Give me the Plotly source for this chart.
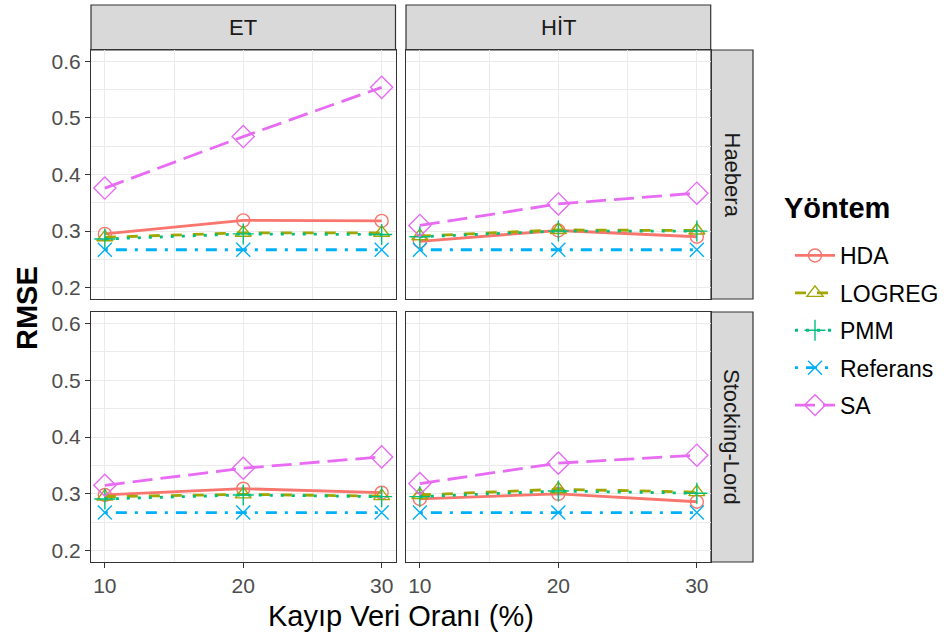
import plotly.graph_objects as go

# Missing-data rate (%) on the x axis
rates = [10, 20, 30]
methods = ["HDA", "LOGREG", "PMM", "Referans", "SA"]
cols = ["ET", "HİT"]
rows = ["Haebera", "Stocking-Lord"]

# RMSE by (column facet, row facet) -> method
et_haebera = {
    "HDA": [0.295, 0.319, 0.318],
    "LOGREG": [0.289, 0.297, 0.297],
    "PMM": [0.286, 0.295, 0.294],
    "Referans": [0.267, 0.267, 0.267],
    "SA": [0.376, 0.467, 0.554],
}
hit_haebera = {
    "HDA": [0.282, 0.301, 0.290],
    "LOGREG": [0.291, 0.302, 0.301],
    "PMM": [0.290, 0.300, 0.300],
    "Referans": [0.267, 0.267, 0.267],
    "SA": [0.310, 0.348, 0.367],
}
et_stocking = {
    "HDA": [0.298, 0.309, 0.302],
    "LOGREG": [0.295, 0.299, 0.296],
    "PMM": [0.291, 0.298, 0.295],
    "Referans": [0.267, 0.267, 0.267],
    "SA": [0.315, 0.345, 0.365],
}
hit_stocking = {
    "HDA": [0.291, 0.300, 0.286],
    "LOGREG": [0.298, 0.308, 0.303],
    "PMM": [0.295, 0.305, 0.301],
    "Referans": [0.267, 0.267, 0.267],
    "SA": [0.318, 0.354, 0.368],
}
panels = [
    (0, 0, et_haebera),
    (0, 1, hit_haebera),
    (1, 0, et_stocking),
    (1, 1, hit_stocking),
]

y_ticks = [0.2, 0.3, 0.4, 0.5, 0.6]
x_ticks = [10, 20, 30]

colors = {
    "HDA": "#F8766D",
    "LOGREG": "#A3A500",
    "PMM": "#00BF7D",
    "Referans": "#00B0F6",
    "SA": "#E76BF3",
}
symbols = {
    "HDA": "circle-open",
    "LOGREG": "triangle-up-open",
    "PMM": "cross-thin-open",
    "Referans": "x-thin-open",
    "SA": "diamond-open",
}
msize = {"HDA": 13, "LOGREG": 14, "PMM": 15, "Referans": 14, "SA": 17}
LW = 2.8
dashes = {
    "HDA": "solid",
    "LOGREG": "11px,11px",
    "PMM": "3px,8px",
    "Referans": "3px,8px,11px,8px",
    "SA": "20px,8px",
}

W, H = 944, 640
# panel boxes in pixels (left, right) and (top, bottom)
col_px = [(91, 395.5), (406, 710.7)]
row_px = [(50, 299), (312, 562)]
strip_top = (5, 50)
strip_right = (711, 753)

TICK_FONT = dict(size=21, color="#4D4D4D")
STRIP_FONT = dict(size=22, color="#1A1A1A",
                  family="Liberation Sans Narrow, Liberation Sans, Arial")


def px_x(v):
    return v / W


def px_y(v):
    return 1 - v / H


fig = go.Figure()
layout = {}
shapes = []
annotations = []

for idx, (r, c, data) in enumerate(panels):
    n = idx + 1
    xa = "x" if n == 1 else f"x{n}"
    ya = "y" if n == 1 else f"y{n}"
    for m in methods:
        fig.add_trace(go.Scatter(
            x=rates, y=data[m], mode="lines+markers", name=m,
            legendgroup=m, showlegend=(n == 1),
            xaxis=xa, yaxis=ya,
            line=dict(color=colors[m], width=LW, dash=dashes[m]),
            marker=dict(symbol=symbols[m], size=msize[m], color=colors[m],
                        line=dict(color=colors[m], width=1.4)),
            hoverinfo="x+y+name",
        ))
    xk = "xaxis" if n == 1 else f"xaxis{n}"
    yk = "yaxis" if n == 1 else f"yaxis{n}"
    bottom = r == 1
    left = c == 0
    layout[xk] = dict(
        domain=[px_x(col_px[c][0]), px_x(col_px[c][1])],
        anchor=ya, range=[9, 31], tickvals=x_ticks,
        showticklabels=bottom, ticks="outside" if bottom else "",
        ticklen=5, tickwidth=1.1, tickcolor="#333333",
        tickfont=TICK_FONT,
        showgrid=True, gridcolor="#EBEBEB", gridwidth=1.2,
        minor=dict(tickvals=[15, 25], showgrid=True, gridcolor="#EBEBEB", gridwidth=0.8),
        showline=True, linecolor="#333333", linewidth=1.2, mirror=True,
        zeroline=False, fixedrange=True,
    )
    layout[yk] = dict(
        domain=[px_y(row_px[r][1]), px_y(row_px[r][0])],
        anchor=xa, range=[0.18, 0.62], tickvals=y_ticks,
        ticktext=[f"{v:.1f}" for v in y_ticks],
        showticklabels=left, ticks="outside" if left else "",
        ticklen=5, tickwidth=1.1, tickcolor="#333333",
        tickfont=TICK_FONT,
        showgrid=True, gridcolor="#EBEBEB", gridwidth=1.2,
        minor=dict(tickvals=[0.25, 0.35, 0.45, 0.55], showgrid=True,
                   gridcolor="#EBEBEB", gridwidth=0.8),
        showline=True, linecolor="#333333", linewidth=1.2, mirror=True,
        zeroline=False, fixedrange=True,
    )

# facet strips along the top (columns)
for c, label in enumerate(cols):
    x0, x1 = col_px[c]
    shapes.append(dict(type="rect", xref="paper", yref="paper",
                       x0=px_x(x0), x1=px_x(x1),
                       y0=px_y(strip_top[1]), y1=px_y(strip_top[0]),
                       fillcolor="#D9D9D9", line=dict(color="#333333", width=1.2),
                       layer="below"))
    annotations.append(dict(text=label, xref="paper", yref="paper",
                            x=px_x((x0 + x1) / 2), y=px_y(sum(strip_top) / 2),
                            showarrow=False, xanchor="center", yanchor="middle",
                            font=STRIP_FONT))

# facet strips along the right (rows)
for r, label in enumerate(rows):
    y0, y1 = row_px[r]
    shapes.append(dict(type="rect", xref="paper", yref="paper",
                       x0=px_x(strip_right[0]), x1=px_x(strip_right[1]),
                       y0=px_y(y1), y1=px_y(y0),
                       fillcolor="#D9D9D9", line=dict(color="#333333", width=1.2),
                       layer="below"))
    annotations.append(dict(text=label, xref="paper", yref="paper",
                            x=px_x(sum(strip_right) / 2), y=px_y((y0 + y1) / 2),
                            showarrow=False, xanchor="center", yanchor="middle",
                            textangle=90, font=STRIP_FONT))

# shared axis titles
annotations.append(dict(text="Kayıp Veri Oranı (%)", xref="paper", yref="paper",
                        x=px_x((col_px[0][0] + col_px[1][1]) / 2), y=px_y(616),
                        showarrow=False, xanchor="center", yanchor="middle",
                        font=dict(size=29, color="#000000")))
annotations.append(dict(text="<b>RMSE</b>", xref="paper", yref="paper",
                        x=px_x(27), y=px_y(308),
                        showarrow=False, xanchor="center", yanchor="middle",
                        textangle=-90,
                        font=dict(size=29, color="#000000")))

# legend heading
annotations.append(dict(text="<b>Yöntem</b>", xref="paper", yref="paper",
                        x=px_x(782), y=px_y(208),
                        showarrow=False, xanchor="left", yanchor="middle",
                        font=dict(size=29, color="#000000")))

fig.update_layout(
    **layout,
    width=W, height=H,
    margin=dict(l=0, r=0, t=0, b=0),
    paper_bgcolor="white", plot_bgcolor="white",
    font=dict(family="Liberation Sans, Arial, sans-serif", color="#000000"),
    shapes=shapes, annotations=annotations,
    legend=dict(
        x=px_x(790), y=px_y(234), xanchor="left", yanchor="top",
        font=dict(size=23, color="#000000"),
        tracegroupgap=4.5, itemwidth=40,
        bgcolor="rgba(0,0,0,0)",
    ),
)

fig.write_html("out.html")
